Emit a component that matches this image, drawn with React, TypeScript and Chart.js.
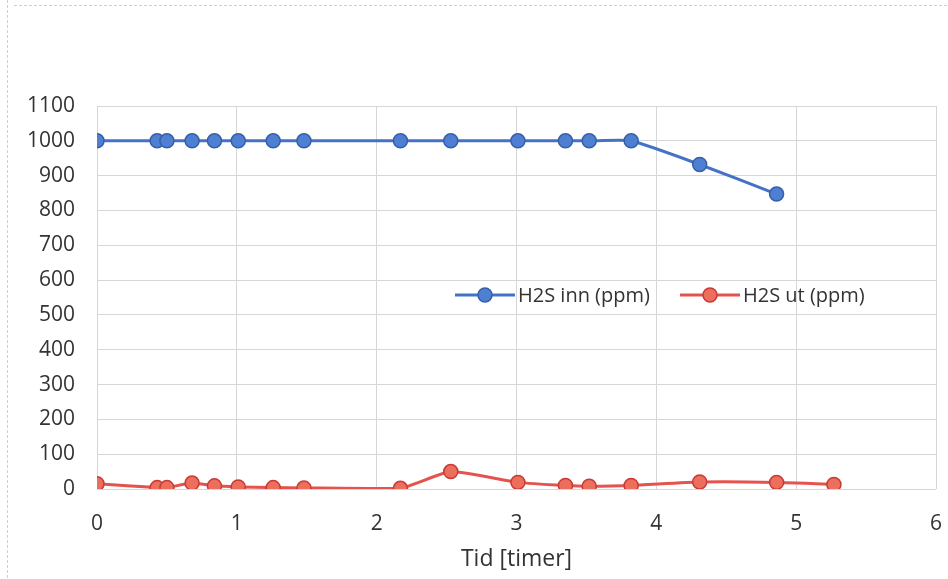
import React, { useEffect, useRef } from "react";
import { Chart, registerables } from "chart.js";

Chart.register(...registerables);

const timeInn = [0, 0.43, 0.5, 0.68, 0.84, 1.01, 1.26, 1.48, 2.17, 2.53, 3.01, 3.35, 3.52, 3.82, 4.31, 4.86];
const h2sInn = [1000, 1000, 1000, 1000, 1000, 1000, 1000, 1000, 1000, 1000, 1000, 1000, 1000, 1000, 932, 847];
const timeUt = [0, 0.43, 0.5, 0.68, 0.84, 1.01, 1.26, 1.48, 2.17, 2.53, 3.01, 3.35, 3.52, 3.82, 4.31, 4.86, 5.27];
const h2sUt = [15, 4, 4, 17, 9, 6, 4, 3, 2, 50, 19, 10, 8, 10, 20, 19, 13];
const labelInn = "H2S inn (ppm)";
const labelUt = "H2S ut (ppm)";
const xTitle = "Tid [timer]";

const FONT = "'Open Sans', 'Noto Sans', sans-serif";
const TEXT = "#333333";

const legendPlugin = {
  id: "innerLegend",
  afterDraw(chart: any) {
    const ctx = chart.ctx;
    const items = chart.data.datasets;
    const y = 295;
    const starts = [455, 680];
    ctx.save();
    ctx.font = `20px ${FONT}`;
    ctx.textBaseline = "middle";
    items.forEach((ds: any, i: number) => {
      const x0 = starts[i];
      ctx.strokeStyle = ds.borderColor;
      ctx.lineWidth = 3;
      ctx.beginPath();
      ctx.moveTo(x0, y);
      ctx.lineTo(x0 + 60, y);
      ctx.stroke();
      ctx.beginPath();
      ctx.arc(x0 + 30, y, 7, 0, Math.PI * 2);
      ctx.fillStyle = ds.pointBackgroundColor;
      ctx.fill();
      ctx.lineWidth = 1.5;
      ctx.strokeStyle = ds.pointBorderColor;
      ctx.stroke();
      ctx.fillStyle = TEXT;
      ctx.textAlign = "left";
      ctx.fillText(ds.label, x0 + 63, y + 1);
    });
    ctx.restore();
  },
};

const framePlugin = {
  id: "scanFrame",
  beforeDraw(chart: any) {
    const ctx = chart.ctx;
    ctx.save();
    ctx.strokeStyle = "#cfcfcf";
    ctx.lineWidth = 1;
    ctx.setLineDash([3, 2]);
    ctx.beginPath();
    ctx.moveTo(14, 5.5);
    ctx.lineTo(948, 5.5);
    ctx.moveTo(7.5, 0);
    ctx.lineTo(7.5, 579);
    ctx.stroke();
    ctx.restore();
  },
};

export default function App() {
  const ref = useRef<HTMLCanvasElement | null>(null);
  useEffect(() => {
    if (!ref.current) return;
    const chart = new Chart(ref.current, {
      type: "line",
      data: {
        datasets: [
          {
            label: labelInn,
            data: timeInn.map((x, i) => ({ x, y: h2sInn[i] })),
            borderColor: "#4472C4",
            backgroundColor: "#4472C4",
            pointBackgroundColor: "#4F7FD3",
            pointBorderColor: "#3560A8",
            pointRadius: 7,
            pointBorderWidth: 1.5,
            borderWidth: 3,
            tension: 0.15,
          },
          {
            label: labelUt,
            data: timeUt.map((x, i) => ({ x, y: h2sUt[i] })),
            borderColor: "#E5534F",
            backgroundColor: "#E5534F",
            pointBackgroundColor: "#EC6E5C",
            pointBorderColor: "#C93A35",
            pointRadius: 7,
            pointBorderWidth: 1.5,
            borderWidth: 3,
            tension: 0.15,
          },
        ],
      },
      options: {
        animation: false,
        responsive: false,
        maintainAspectRatio: false,
        layout: { padding: { top: 106, right: 12, left: 0, bottom: 6 } },
        plugins: {
          legend: { display: false },
          tooltip: { enabled: false },
        },
        scales: {
          x: {
            type: "linear",
            min: 0,
            max: 6,
            ticks: { stepSize: 1, color: TEXT, font: { size: 21, family: FONT }, padding: 22 },
            grid: { color: "#d6d6d6", drawTicks: false },
            border: { display: false },
            title: { display: true, text: xTitle, color: TEXT, font: { size: 23, family: FONT }, padding: { top: 6, bottom: 0 } },
            afterFit(scale: any) {
              scale.height = 84;
              scale.paddingLeft = 0;
              scale.paddingRight = 0;
            },
          },
          y: {
            min: 0,
            max: 1100,
            ticks: {
              stepSize: 100,
              color: TEXT,
              font: { size: 21, family: FONT },
              padding: 22,
              callback: (v: any) => String(v),
            },
            grid: { color: "#d6d6d6", drawTicks: false },
            border: { display: false },
            afterFit(scale: any) {
              scale.width = 97;
              scale.paddingTop = 0;
              scale.paddingBottom = 0;
            },
          },
        },
      },
      plugins: [framePlugin, legendPlugin],
    } as any);
    return () => chart.destroy();
  }, []);
  return (
    <div style={{ position: "fixed", left: 0, top: 0, width: 948, height: 579, background: "#fff" }}>
      <canvas ref={ref} width={948} height={579} style={{ display: "block" }} />
    </div>
  );
}
